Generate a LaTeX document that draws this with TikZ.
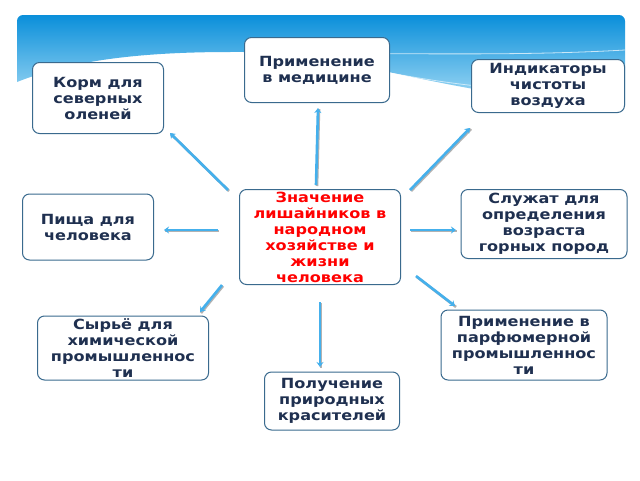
\documentclass[tikz,border=0pt]{standalone}
\usepackage{fontspec}
\setmainfont{DejaVu Sans}[FakeStretch=1.15]
\usetikzlibrary{arrows.meta}
\begin{document}
\begin{tikzpicture}[x=1pt,y=-1pt,
  box/.style={draw=boxc,line width=1pt,rounded corners=7pt,fill=white,align=center,font=\bfseries\fontsize{14}{16}\selectfont,text=navy,inner sep=0pt},
  arr/.style={draw=arrc,line width=2.6pt,-{Stealth[length=5pt,width=7pt]},shorten <=0pt}]
\definecolor{boxc}{HTML}{3A6A8E}
\definecolor{navy}{HTML}{1F3050}
\definecolor{arrc}{HTML}{45B0EC}
\definecolor{bandA}{HTML}{0A8FDA}
\definecolor{bandB}{HTML}{A8DDF6}
\useasboundingbox (0,0) rectangle (640,480);
\fill[white] (0,0) rectangle (640,480);
\begin{scope}
\clip[rounded corners=6pt] (17,15) rectangle (625,200);
\shade[top color=bandA,bottom color=bandB] (17,15) -- (625,15) -- (625,105) .. controls (450,100) and (350,50) .. (230,52) .. controls (120,52) and (60,65) .. (17,82) -- cycle;
\draw[white,opacity=0.7,line width=0.8pt] (160,65) .. controls (300,45) and (450,60) .. (625,50);
\draw[white,opacity=0.6,line width=0.8pt] (300,55) .. controls (420,80) and (520,100) .. (625,85);
\end{scope}
\node[box,minimum width=145pt,minimum height=65pt] (med) at (317,70) {Применение\\в медицине};
\node[box,minimum width=131pt,minimum height=71pt] (korm) at (98,98) {Корм для\\северных\\оленей};
\node[box,minimum width=153pt,minimum height=53pt] (ind) at (548,86) {Индикаторы\\чистоты\\воздуха};
\node[box,minimum width=161pt,minimum height=95pt,text=red] (c) at (320,237) {Значение\\лишайников в\\народном\\хозяйстве и\\жизни\\человека};
\node[box,minimum width=131pt,minimum height=66pt] (pish) at (88,227) {Пища для\\человека\quad};
\node[box,minimum width=166pt,minimum height=69pt] (sl) at (544,224) {Служат для\\определения\\возраста\\горных пород};
\node[box,minimum width=171pt,minimum height=64pt] (syr) at (123,348) {Сырьё для\\химической\\промышленнос\\ти};
\node[box,minimum width=166pt,minimum height=70pt] (par) at (524,345) {Применение в\\парфюмерной\\промышленнос\\ти};
\node[box,minimum width=135pt,minimum height=58pt] (pol) at (332,401) {Получение\\природных\\красителей};
\coordinate (a1) at (316,185); \coordinate (a2) at (228,190); \coordinate (a3) at (410,190);
\coordinate (a4) at (218,230); \coordinate (a5) at (410,230); \coordinate (a6) at (222,285);
\coordinate (a7) at (416,276); \coordinate (a8) at (320,302);
\coordinate (b1) at (318,108); \coordinate (b2) at (170,133); \coordinate (b3) at (470,128);
\coordinate (b4) at (164,230); \coordinate (b5) at (456,230); \coordinate (b6) at (200,312);
\coordinate (b7) at (455,306); \coordinate (b8) at (320,367);
\foreach \i in {1,...,8}{
  \draw[draw=gray!60,line width=2.6pt,transform canvas={shift={(1pt,-1pt)}}] (a\i) -- (b\i);
  \draw[arr] (a\i) -- (b\i);}
\end{tikzpicture}
\end{document}
